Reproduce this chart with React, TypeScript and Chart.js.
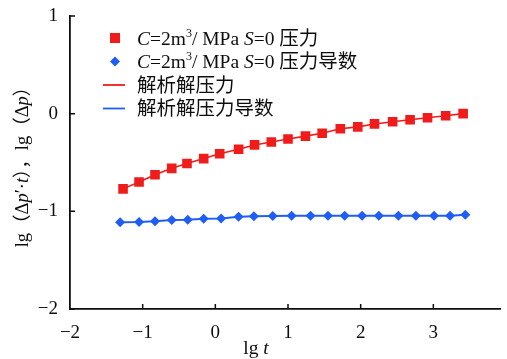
import React, { useEffect, useRef } from 'react';
import { Chart, registerables } from 'chart.js';

Chart.register(...registerables);

// ---- data ----
const pressureLgT = [-1.27, -1.05, -0.83, -0.6, -0.39, -0.16, 0.06, 0.32, 0.54, 0.77, 1.0, 1.24, 1.47, 1.72, 1.96, 2.19, 2.44, 2.68, 2.92, 3.17, 3.41];
const pressureLg = [-0.77, -0.7, -0.625, -0.56, -0.51, -0.46, -0.41, -0.365, -0.32, -0.29, -0.26, -0.23, -0.2, -0.155, -0.135, -0.105, -0.083, -0.062, -0.042, -0.021, 0.0];
const derivLgT = [-1.31, -1.05, -0.83, -0.6, -0.38, -0.16, 0.08, 0.32, 0.53, 0.79, 1.05, 1.31, 1.55, 1.78, 2.02, 2.25, 2.52, 2.76, 3.01, 3.23, 3.44];
const derivLg = [-1.112, -1.109, -1.102, -1.088, -1.085, -1.077, -1.073, -1.055, -1.05, -1.048, -1.046, -1.046, -1.045, -1.045, -1.046, -1.046, -1.046, -1.046, -1.046, -1.044, -1.034];
const xTickValues = [-2, -1, 0, 1, 2, 3];
const yTickValues = [-2, -1, 0, 1];
const seriesLabels = ['C=2m³/ MPa S=0 压力', 'C=2m³/ MPa S=0 压力导数', '解析解压力', '解析解压力导数'];
const xTitle = 'lg t';
const yTitle = 'lg（Δp′·t），lg（Δp）';

const RED = '#f01c1c';
const BLUE = '#1f5ef5';
const INK = '#0d0d0d';
const SERIF = '"Liberation Serif", "Times New Roman", serif';
const CJK = '"Noto Sans CJK SC", "Noto Sans", sans-serif';

type Seg = { t: string; font: string; sup: boolean };

function toSegs(text: string, size: number): Seg[] {
  const segs: Seg[] = [];
  for (const ch of Array.from(text)) {
    let t = ch;
    let sup = false;
    let font: string;
    if (ch === '³') {
      t = '3';
      sup = true;
      font = `${Math.round(size * 0.6)}px ${SERIF}`;
    } else if (/[\u2E80-\u9FFF\uFF00-\uFFEF]/.test(ch)) {
      font = `${size}px ${CJK}`;
    } else if ('CSpt'.includes(ch)) {
      font = `italic ${size}px ${SERIF}`;
    } else {
      font = `${size}px ${SERIF}`;
    }
    const last = segs[segs.length - 1];
    if (last && last.font === font && last.sup === sup) last.t += t;
    else segs.push({ t, font, sup });
  }
  return segs;
}

function drawRich(ctx: CanvasRenderingContext2D, text: string, x: number, y: number, size: number, align: 'left' | 'center') {
  const segs = toSegs(text, size);
  let total = 0;
  const widths = segs.map((s) => {
    ctx.font = s.font;
    const w = ctx.measureText(s.t).width;
    total += w;
    return w;
  });
  let cx = align === 'center' ? x - total / 2 : x;
  ctx.textAlign = 'left';
  ctx.textBaseline = 'alphabetic';
  const base = y + size * 0.34;
  segs.forEach((s, i) => {
    ctx.font = s.font;
    ctx.fillText(s.t, cx, s.sup ? base - size * 0.4 : base);
    cx += widths[i];
  });
}

const decor = {
  id: 'decor',
  afterDraw(chart: any) {
    const { ctx, chartArea, scales } = chart;
    const xs = scales.x;
    const ys = scales.y;
    ctx.save();
    // inward tick marks
    ctx.strokeStyle = INK;
    ctx.lineWidth = 1.5;
    ctx.beginPath();
    xTickValues.forEach((v) => {
      const px = xs.getPixelForValue(v);
      if (px <= chartArea.left + 1) return;
      ctx.moveTo(px, chartArea.bottom);
      ctx.lineTo(px, chartArea.bottom - 5);
    });
    yTickValues.forEach((v) => {
      const py = ys.getPixelForValue(v);
      ctx.moveTo(chartArea.left, py);
      ctx.lineTo(chartArea.left + 5, py);
    });
    ctx.stroke();

    // legend
    const mx = chartArea.left + 45;
    const tx = chartArea.left + 67;
    chart.data.datasets.forEach((ds: any, i: number) => {
      const cy = chartArea.top + 22 + i * 23.5;
      if (i === 0) {
        ctx.fillStyle = RED;
        ctx.fillRect(mx - 5, cy - 5, 10, 10);
      } else if (i === 1) {
        ctx.fillStyle = BLUE;
        ctx.beginPath();
        ctx.moveTo(mx, cy - 5);
        ctx.lineTo(mx + 5, cy);
        ctx.lineTo(mx, cy + 5);
        ctx.lineTo(mx - 5, cy);
        ctx.closePath();
        ctx.fill();
      } else {
        ctx.strokeStyle = i === 2 ? RED : BLUE;
        ctx.lineWidth = 1.8;
        ctx.beginPath();
        ctx.moveTo(mx - 12, cy);
        ctx.lineTo(mx + 10, cy);
        ctx.stroke();
      }
      ctx.fillStyle = INK;
      drawRich(ctx, ds.label, tx, cy, 19.5, 'left');
    });

    // axis titles
    ctx.fillStyle = INK;
    drawRich(ctx, xTitle, 256, 347, 19.5, 'center');
    ctx.translate(22, (chartArea.top + chartArea.bottom) / 2);
    ctx.rotate(-Math.PI / 2);
    drawRich(ctx, yTitle, 0, 0, 18.5, 'center');
    ctx.restore();
  },
};

const fmt = (v: any) => String(v).replace('-', '−');

export default function App() {
  const ref = useRef<HTMLCanvasElement>(null);
  useEffect(() => {
    if (!ref.current) return;
    const chart = new Chart(ref.current, {
      type: 'scatter',
      data: {
        datasets: [
          {
            label: seriesLabels[0],
            data: pressureLgT.map((x, i) => ({ x, y: pressureLg[i] })),
            showLine: false,
            pointStyle: 'rect',
            pointRadius: 6.8,
            backgroundColor: RED,
            borderColor: RED,
            borderWidth: 0,
            order: 0,
          },
          {
            label: seriesLabels[1],
            data: derivLgT.map((x, i) => ({ x, y: derivLg[i] })),
            showLine: false,
            pointStyle: 'rectRot',
            pointRadius: 5,
            backgroundColor: BLUE,
            borderColor: BLUE,
            borderWidth: 0,
            order: 0,
          },
          {
            label: seriesLabels[2],
            data: pressureLgT.map((x, i) => ({ x, y: pressureLg[i] })),
            showLine: true,
            pointRadius: 0,
            borderColor: RED,
            borderWidth: 1.6,
            order: 1,
          },
          {
            label: seriesLabels[3],
            data: derivLgT.map((x, i) => ({ x, y: derivLg[i] })),
            showLine: true,
            pointRadius: 0,
            borderColor: BLUE,
            borderWidth: 2,
            order: 1,
          },
        ],
      },
      options: {
        responsive: false,
        animation: false,
        devicePixelRatio: 1,
        layout: { padding: { top: 16, right: 0, left: 0, bottom: 0 } },
        plugins: { legend: { display: false }, tooltip: { enabled: false } },
        scales: {
          x: {
            type: 'linear',
            min: -2,
            max: 3.92,
            grid: { display: false },
            border: { display: true, color: INK, width: 1.8 },
            afterBuildTicks: (s: any) => {
              s.ticks = xTickValues.map((v) => ({ value: v }));
            },
            afterFit: (s: any) => {
              s.height = 50;
            },
            ticks: { color: INK, font: { family: SERIF, size: 19 }, padding: 5, callback: fmt },
          },
          y: {
            type: 'linear',
            min: -2,
            max: 1,
            grid: { display: false },
            border: { display: true, color: INK, width: 1.8 },
            afterBuildTicks: (s: any) => {
              s.ticks = yTickValues.map((v) => ({ value: v }));
            },
            afterFit: (s: any) => {
              s.width = 70;
            },
            ticks: { color: INK, font: { family: SERIF, size: 19 }, padding: 4, callback: fmt },
          },
        },
      },
      plugins: [decor],
    } as any);
    return () => chart.destroy();
  }, []);
  return (
    <div style={{ position: 'absolute', left: 0, top: 0, width: 507, height: 359, background: '#fff' }}>
      <canvas ref={ref} width={507} height={359} />
    </div>
  );
}
